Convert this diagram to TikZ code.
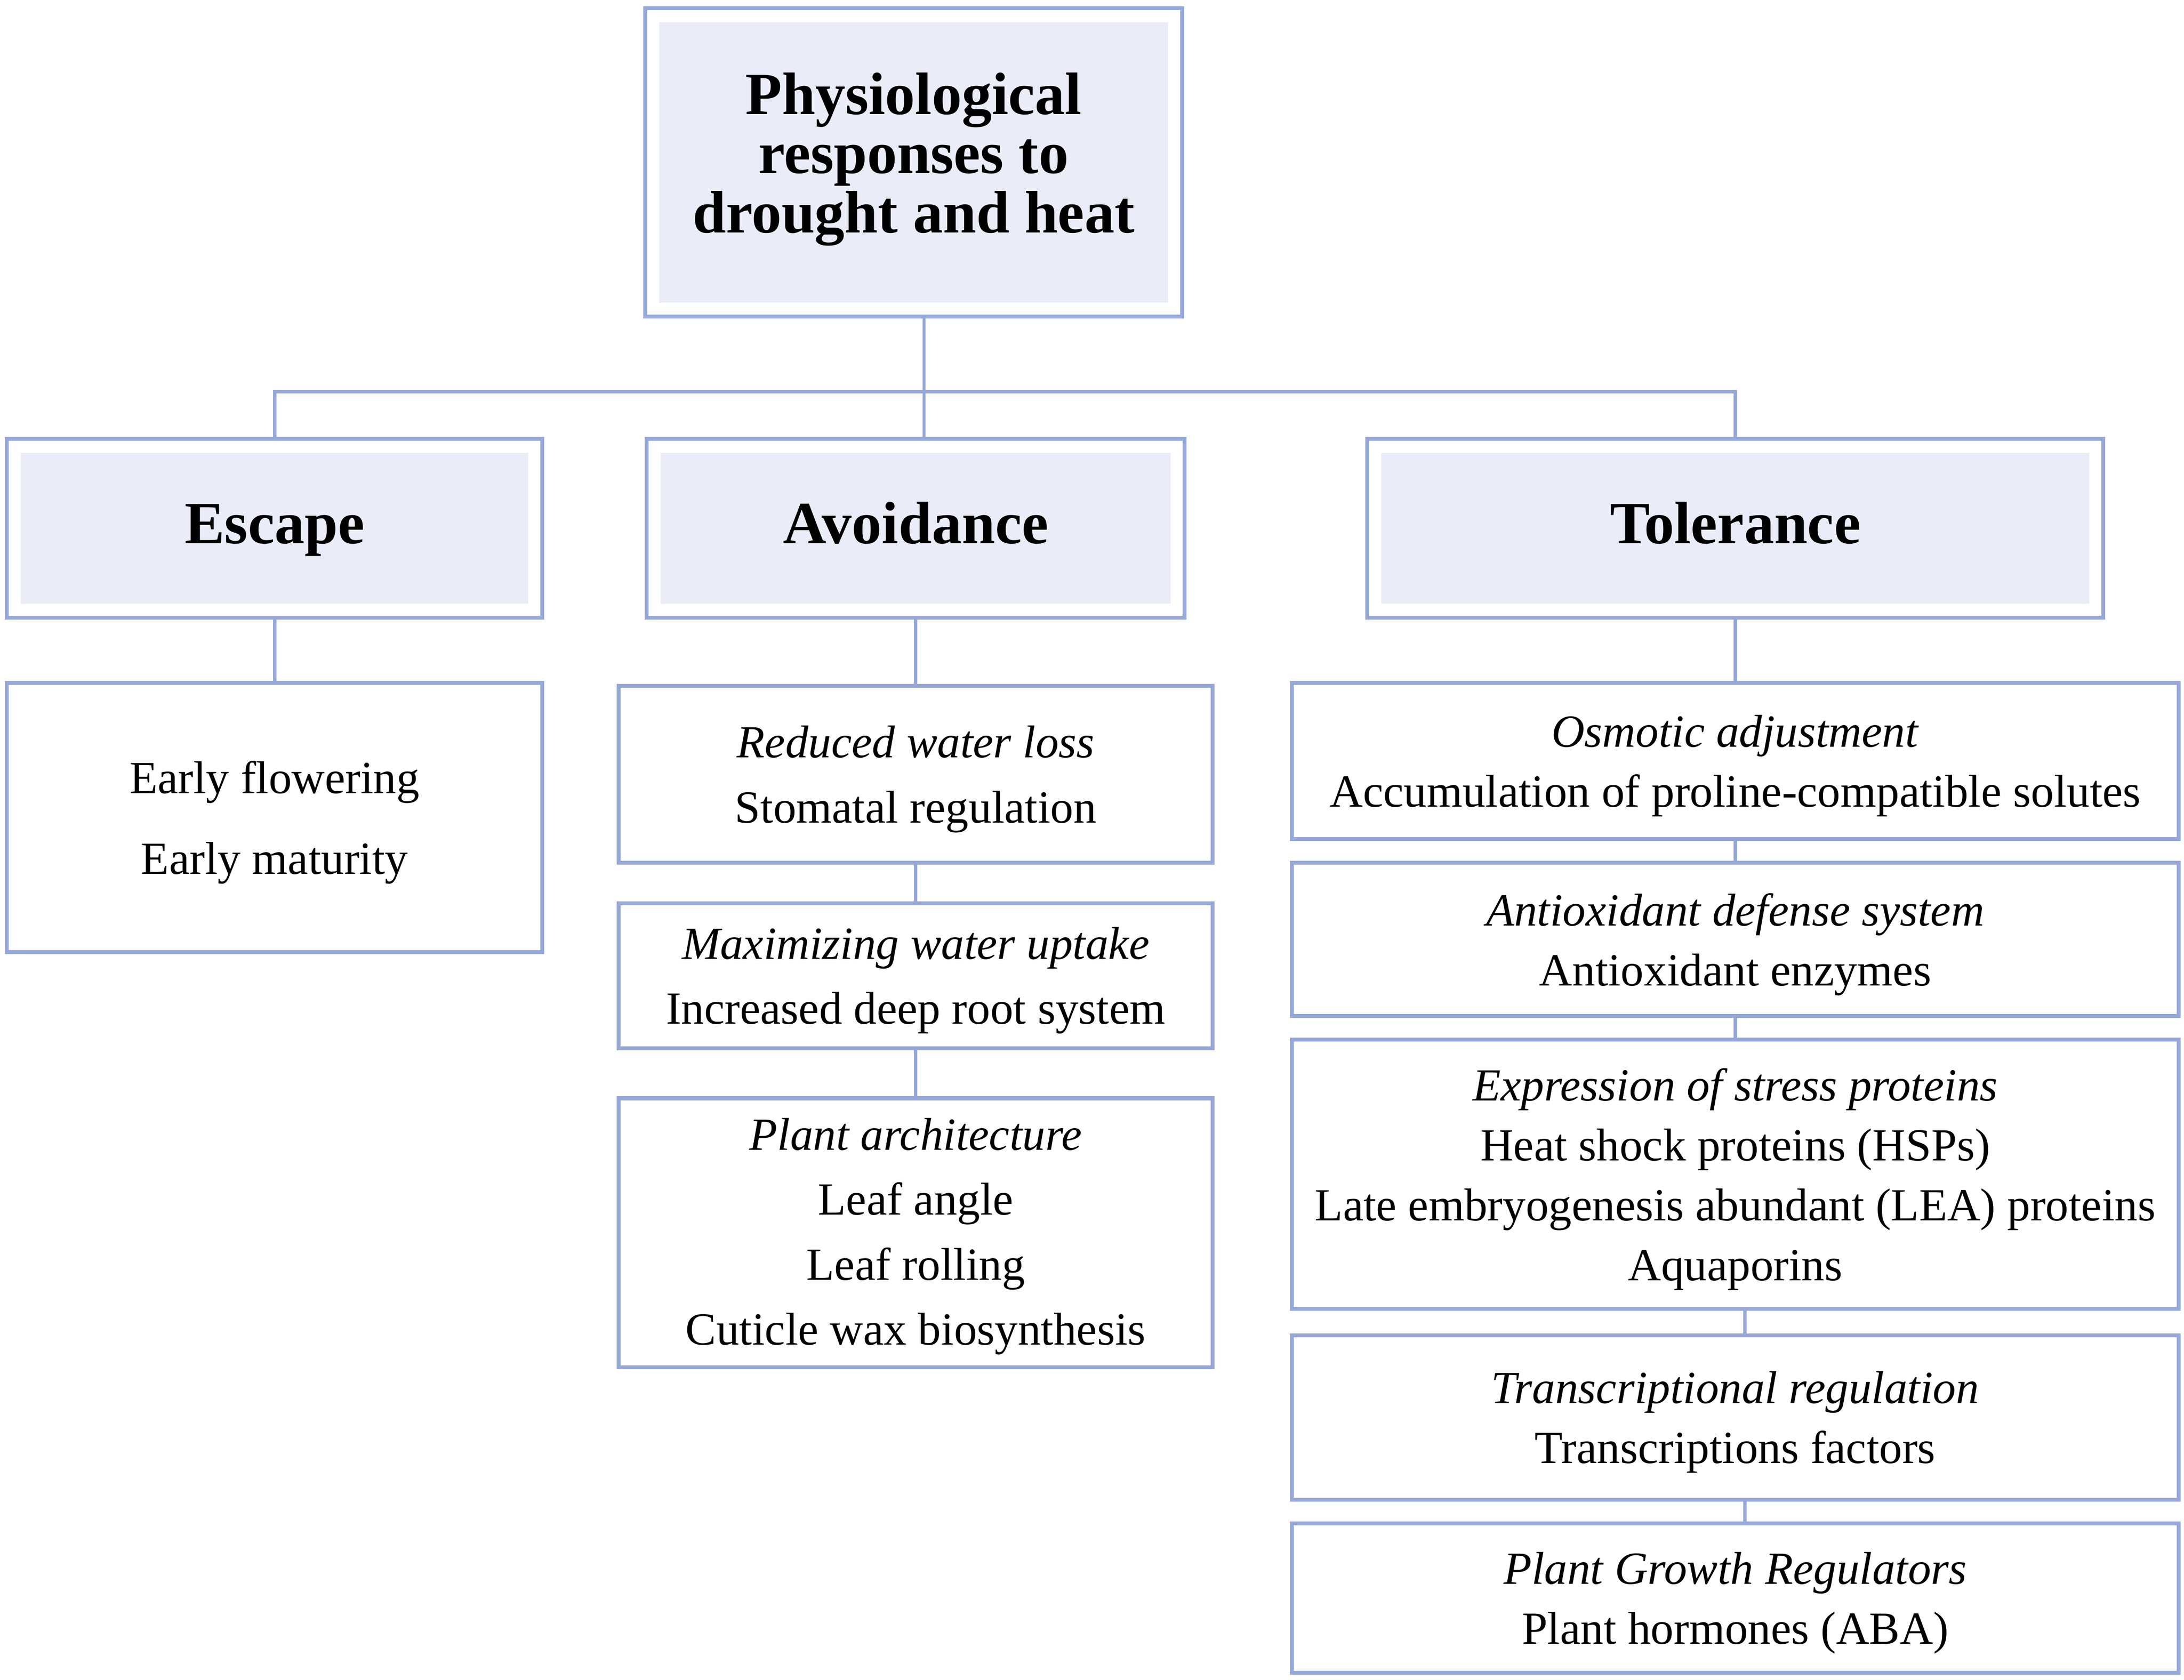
\documentclass[tikz,border=0pt]{standalone}
\usepackage{fontspec}
\setmainfont{Liberation Serif}
\usetikzlibrary{calc}
\definecolor{bc}{RGB}{150,168,216}
\definecolor{fc}{RGB}{234,237,248}
\tikzset{
  txtbox/.style={draw=bc, line width=1.4pt, fill=white, inner sep=0pt, align=center,
    text depth=-1pt, font=\fontsize{16.5}{21.5}\selectfont},
  avbox/.style={txtbox, font=\fontsize{16.5}{23.3}\selectfont},
  headbox/.style={draw=bc, line width=1.4pt, inner sep=0pt, align=center,
    font=\bfseries\fontsize{21.5}{21.25}\selectfont,
    path picture={\fill[fc] ($(path picture bounding box.south west)+(5pt,5pt)$) rectangle ($(path picture bounding box.north east)+(-5pt,-5pt)$);}},
  subhead/.style={headbox, text height=16pt, text depth=5pt},
  conn/.style={draw=bc, line width=1.2pt}
}
\begin{document}
\begin{tikzpicture}[x=0.5pt,y=-0.5pt]
\useasboundingbox[fill=white] (0,0) rectangle (1567,1205);
% headers
\node[headbox, text depth=7pt, minimum width=192.5pt, minimum height=110.5pt] (top) at (655.5,116.5) {Physiological\\responses to\\drought and heat};
\node[subhead, minimum width=192pt, minimum height=64pt] (escape) at (197,379) {Escape};
\node[subhead, minimum width=193pt, minimum height=64pt] (avoid) at (657,379) {Avoidance};
\node[subhead, minimum width=264pt, minimum height=64pt] (toler) at (1245,379) {Tolerance};
% escape
\node[txtbox, text depth=-4pt, minimum width=192pt, minimum height=96.5pt] (esc1) at (197,586.5) {Early flowering\\[7.5pt]Early maturity};
% avoidance
\node[avbox, minimum width=213pt, minimum height=63.5pt] (av1) at (657,555.5) {\textit{Reduced water loss}\\Stomatal regulation};
\node[avbox, minimum width=213pt, minimum height=52pt] (av2) at (657,700) {\textit{Maximizing water uptake}\\Increased deep root system};
\node[avbox, text depth=1pt, minimum width=213pt, minimum height=96.5pt] (av3) at (657,884.5) {\textit{Plant architecture}\\Leaf angle\\Leaf rolling\\Cuticle wax biosynthesis};
% tolerance
\node[txtbox, minimum width=318pt, minimum height=56pt] (t1) at (1245,546) {\textit{Osmotic adjustment}\\Accumulation of proline-compatible solutes};
\node[txtbox, minimum width=318pt, minimum height=55pt] (t2) at (1245,674) {\textit{Antioxidant defense system}\\Antioxidant enzymes};
\node[txtbox, text depth=-4pt, minimum width=318pt, minimum height=96.5pt] (t3) at (1245,842.5) {\textit{Expression of stress proteins}\\Heat shock proteins (HSPs)\\Late embryogenesis abundant (LEA) proteins\\Aquaporins};
\node[txtbox, minimum width=318pt, minimum height=59pt] (t4) at (1245,1017) {\textit{Transcriptional regulation}\\Transcriptions factors};
\node[txtbox, minimum width=318pt, minimum height=53.5pt] (t5) at (1245,1146.5) {\textit{Plant Growth Regulators}\\Plant hormones (ABA)};
% connectors
\coordinate (bar) at (663,281);
\draw[conn] (top.south -| bar) -- (bar);
\draw[conn] (escape.north) |- (bar) -| (toler.north);
\draw[conn] (bar) -- (avoid.north -| bar);
\draw[conn] (escape.south) -- (esc1.north);
\draw[conn] (avoid.south) -- (av1.north);
\draw[conn] (av1.south) -- (av2.north);
\draw[conn] (av2.south) -- (av3.north);
\draw[conn] (toler.south) -- (t1.north);
\draw[conn] (t1.south) -- (t2.north);
\draw[conn] (t2.south) -- (t3.north);
\draw[conn] ([xshift=3.5pt]t3.south) -- ([xshift=3.5pt]t4.north);
\draw[conn] ([xshift=3.5pt]t4.south) -- ([xshift=3.5pt]t5.north);
\end{tikzpicture}
\end{document}
